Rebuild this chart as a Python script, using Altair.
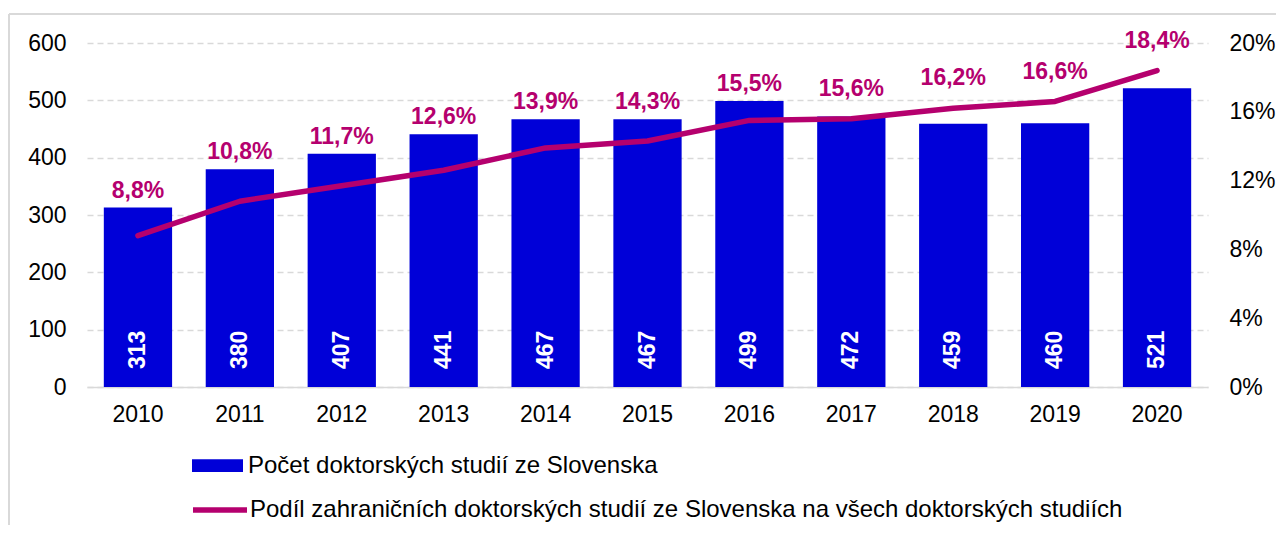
import altair as alt
import pandas as pd

years = ["2010", "2011", "2012", "2013", "2014", "2015", "2016", "2017", "2018", "2019", "2020"]
counts = [313, 380, 407, 441, 467, 467, 499, 472, 459, 460, 521]
shares = [8.8, 10.8, 11.7, 12.6, 13.9, 14.3, 15.5, 15.6, 16.2, 16.6, 18.4]

bar_name = "Počet doktorských studií ze Slovenska"
line_name = "Podíl zahraničních doktorských studií ze Slovenska na všech doktorských studiích"

BLUE = "#0000D8"
MAG = "#B5006E"
FONT = "Liberation Sans"

df = pd.DataFrame({
    "year": years,
    "count": counts,
    "share": [s / 100 for s in shares],
    "share_label": [f"{s:.1f}".replace(".", ",") + "%" for s in shares],
    "s1": bar_name,
    "s2": line_name,
})

W, H = 1121, 344

x = alt.X("year:N", title=None,
          scale=alt.Scale(paddingInner=0.33, paddingOuter=0.165),
          axis=alt.Axis(labelAngle=0, ticks=False, domainColor="#D9D9D9", domainWidth=1.5,
                        labelFontSize=23, labelFont=FONT, labelColor="#000000", labelPadding=16))

base = alt.Chart(df)

bars = base.mark_bar(color=BLUE).encode(
    x=x,
    y=alt.Y("count:Q", title=None,
            scale=alt.Scale(domain=[0, 600], nice=False),
            axis=alt.Axis(values=[0, 100, 200, 300, 400, 500, 600], domain=False, ticks=False,
                          grid=True, gridDash=[6, 4], gridColor="#D9D9D9", gridWidth=1.5,
                          labelOverlap=False,
                          labelFontSize=23, labelFont=FONT, labelColor="#000000", labelPadding=21)),
    color=alt.Color("s1:N", scale=alt.Scale(domain=[bar_name], range=[BLUE]),
                    legend=alt.Legend(title=None, orient="none", legendX=105, legendY=397,
                                      symbolType="M-1,-0.25H1V0.25H-1Z", symbolSize=2601,
                                      symbolStrokeWidth=0, labelFontSize=24, labelFont=FONT,
                                      labelColor="#000000", labelOffset=5, labelLimit=0)),
)

bar_labels = base.transform_calculate(zero="0").mark_text(
    angle=270, align="left", baseline="middle", dx=18,
    color="white", fontWeight="bold", fontSize=23, font=FONT).encode(
    x=alt.X("year:N"),
    y=alt.Y("zero:Q"),
    text=alt.Text("count:Q"),
)

frame_left = base.mark_rule(color="#D9D9D9", strokeWidth=1.5).encode(
    x=alt.value(-78), y=alt.value(-29), y2=alt.value(H + 160))
frame_top = base.mark_rule(color="#D9D9D9", strokeWidth=1.5).encode(
    x=alt.value(-78), x2=alt.value(W + 100), y=alt.value(-29))

left = alt.layer(bars, bar_labels, frame_left, frame_top)

line = base.mark_line(strokeWidth=5.5, strokeCap="round", strokeJoin="round").encode(
    x=alt.X("year:N"),
    y=alt.Y("share:Q", title=None,
            scale=alt.Scale(domain=[0, 0.2], nice=False),
            axis=alt.Axis(orient="right", format=".0%",
                          values=[0, 0.02, 0.04, 0.06, 0.08, 0.10, 0.12, 0.14, 0.16, 0.18, 0.20],
                          domain=False, ticks=False, grid=False, labelOverlap=False,
                          labelFontSize=23, labelFont=FONT, labelColor="#000000", labelPadding=21)),
    stroke=alt.Stroke("s2:N", scale=alt.Scale(domain=[line_name], range=[MAG]),
                      legend=alt.Legend(title=None, orient="none", legendX=103, legendY=437,
                                        symbolType="stroke", symbolSize=2916, symbolStrokeWidth=5.5,
                                        labelFontSize=24, labelFont=FONT, labelColor="#000000",
                                        labelOffset=0, labelLimit=0)),
)

# label sits above whichever is higher: the bar top or the line point
pct_labels = base.transform_calculate(
    pos="max(datum.count / 600 * 0.2 + 0.0099, datum.share + 0.0174)"
).mark_text(color=MAG, fontWeight="bold", fontSize=23, font=FONT, baseline="middle").encode(
    x=alt.X("year:N"),
    y=alt.Y("pos:Q", scale=alt.Scale(domain=[0, 0.2], nice=False)),
    text="share_label:N",
)

right = alt.layer(line, pct_labels)

chart = alt.layer(left, right).resolve_scale(y="independent").properties(
    width=W, height=H,
    autosize=alt.AutoSizeParams(type="none"),
    padding={"left": 79, "top": 35, "right": 68, "bottom": 138},
).configure_view(stroke=None)

chart.save("out.html", embed_options={"renderer": "svg", "actions": False})
